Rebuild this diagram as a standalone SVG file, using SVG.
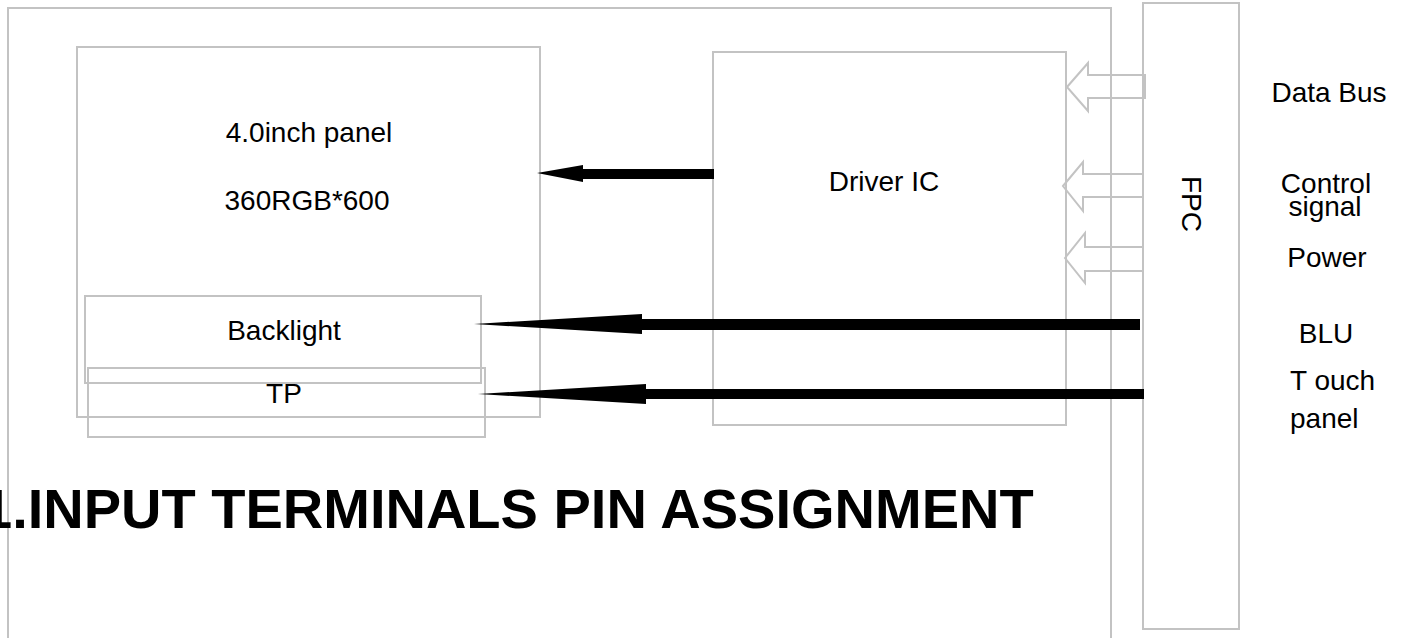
<svg xmlns="http://www.w3.org/2000/svg" width="1405" height="638" viewBox="0 0 1405 638">
<style>
.box{fill:none;stroke:#c3c3c3;stroke-width:2}
.hollow{fill:none;stroke:#c3c3c3;stroke-width:2;stroke-linejoin:miter}
.solid{fill:#000;stroke:none}
.t{font-family:"Liberation Sans",Arial,sans-serif;font-size:28px;fill:#000}
.title{font-family:"Liberation Sans",Arial,sans-serif;font-size:56px;font-weight:bold;fill:#000}
</style>
<rect width="1405" height="638" fill="#fff"/>
<g id="frame"><path class="box" d="M8,640 V8 H1111 V640"/></g>
<g id="panel">
<rect class="box" x="77" y="47" width="463" height="370"/>
<text class="t" x="309" y="142" text-anchor="middle">4.0inch panel</text>
<text class="t" x="307" y="210" text-anchor="middle">360RGB*600</text>
</g>
<g id="backlight">
<rect class="box" x="85" y="296" width="396" height="87"/>
<text class="t" x="284" y="340" text-anchor="middle">Backlight</text>
</g>
<g id="tp">
<rect class="box" x="88" y="368" width="397" height="69"/>
<text class="t" x="284" y="403" text-anchor="middle">TP</text>
</g>
<g id="driver">
<rect class="box" x="713" y="52" width="353" height="373"/>
<text class="t" x="884" y="191" text-anchor="middle">Driver IC</text>
</g>
<g id="fpc">
<rect class="box" x="1143" y="3" width="96" height="626"/>
<text class="t" transform="translate(1182,204) rotate(90)" text-anchor="middle">FPC</text>
</g>
<g id="connectors">
<polygon class="hollow" points="1067,87 1088,63 1088,75 1145,75 1145,98 1088,98 1088,111"/>
<polygon class="hollow" points="1063,186 1083,162 1083,174 1143,174 1143,197 1083,197 1083,211"/>
<polygon class="hollow" points="1065,258 1085,233 1085,247 1143,247 1143,271 1085,271 1085,283"/>
<polygon class="solid" points="537,173 583,165 583,169 714,169 714,179 583,179 583,182"/>
<polygon class="solid" points="474,324 642,314 642,319 1140,319 1140,330 642,330 642,334"/>
<polygon class="solid" points="478,394 646,384 646,389 1144,389 1144,399 646,399 646,404"/>
</g>
<g id="labels">
<text class="t" x="1329" y="102" text-anchor="middle">Data Bus</text>
<text class="t" x="1326" y="193" text-anchor="middle">Control</text>
<text class="t" x="1325" y="216" text-anchor="middle">signal</text>
<text class="t" x="1327" y="267" text-anchor="middle">Power</text>
<text class="t" x="1326" y="343" text-anchor="middle">BLU</text>
<text class="t" x="1290" y="390">T ouch</text>
<text class="t" x="1290" y="428">panel</text>
</g>
<g id="heading">
<text class="title" x="-19" y="528">1.INPUT TERMINALS PIN ASSIGNMENT</text>
</g>
</svg>
